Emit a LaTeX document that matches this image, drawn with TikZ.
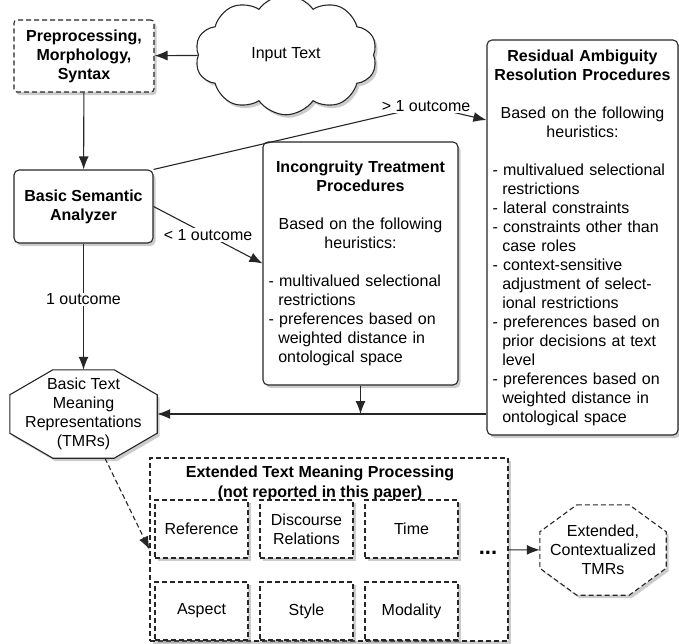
\documentclass[tikz,border=0pt]{standalone}
\usepackage{fontspec}
\setmainfont{Liberation Sans}
\usetikzlibrary{positioning}
\usetikzlibrary{calc}
\usetikzlibrary{arrows.meta,shapes.symbols,shadows,backgrounds}
\setlength{\parindent}{0pt}
\newcommand{\heur}{\par - }
\newcommand{\hcont}{\newline\hspace*{0.61em}}

\tikzset{
base/.style={draw=black!85, line width=1.1pt, fill=white, font=\fontsize{16}{19}\selectfont,
  drop shadow={shadow xshift=2.5pt, shadow yshift=-3pt, opacity=0.4}},
procbox/.style={base, rounded corners=5pt},
dashbox/.style={base, rounded corners=3pt, dash pattern=on 5pt off 3pt},
subbox/.style={dashbox, rounded corners=0pt, align=center, minimum width=93pt, minimum height=58pt},
octo/.style={align=center, font=\fontsize{16}{19}\selectfont},
octline/.style={base},
lbl/.style={fill=white, inner sep=1pt, font=\fontsize{16}{19}\selectfont},
arr/.style={-{Latex[length=13pt,width=10pt]}, line width=1.1pt, draw=black!85},
}

\begin{document}
\begin{tikzpicture}[x=1pt,y=-1pt]
\useasboundingbox (0,0) rectangle (679,643);

\node[dashbox, align=center, font=\fontsize{16}{19}\selectfont\bfseries, minimum width=140pt, minimum height=72pt](prep) at (84,56){Preprocessing,\\Morphology,\\Syntax};
\node[base, cloud, cloud puffs=10, cloud puff arc=110, minimum width=182pt, minimum height=90pt](intext) at (286,55){Input Text};
\node[procbox, align=center, font=\fontsize{16}{19}\selectfont\bfseries, minimum width=139pt, minimum height=73pt](bsa) at (83.5,206.5){Basic Semantic\\Analyzer};

\node[procbox, text width=184pt, inner xsep=5.5pt, minimum height=243pt](incong) at (360.5,263.5){%
{\centering\bfseries Incongruity Treatment\\Procedures\par}
\vskip19pt
{\centering Based on the following\\heuristics:\par}
\vskip19pt
\raggedright
\heur multivalued selectional\hcont restrictions
\heur preferences based on\hcont weighted distance in\hcont ontological space\par};

\node[procbox, text width=180pt, inner xsep=5.5pt, minimum height=395pt](resid) at (582.5,237.5){%
{\centering\bfseries Residual Ambiguity\\Resolution Procedures\par}
\vskip19pt
{\centering Based on the following\\heuristics:\par}
\vskip19pt
\raggedright
\heur multivalued selectional\hcont restrictions
\heur lateral constraints
\heur constraints other than\hcont case roles
\heur context-sensitive\hcont adjustment of select-\hcont ional restrictions
\heur preferences based on\hcont prior decisions at text\hcont level
\heur preferences based on\hcont weighted distance in\hcont ontological space\par};

% octagons: text node first, outline behind it
\node[octo, minimum width=147pt, minimum height=88pt](btmr) at (83.5,414){Basic Text\\Meaning\\Representations\\(TMRs)};
\node[octo, minimum width=126pt, minimum height=90pt](exttmr) at (603,550){Extended,\\Contextualized\\TMRs};
\begin{scope}[on background layer]
\draw[octline] ($(btmr.north west)+(43,0)$) -- ($(btmr.north east)+(-43,0)$) -- ($(btmr.north east)+(0,25)$)
  -- ($(btmr.south east)+(0,-25)$) -- ($(btmr.south east)+(-43,0)$) -- ($(btmr.south west)+(43,0)$)
  -- ($(btmr.south west)+(0,-25)$) -- ($(btmr.north west)+(0,25)$) -- cycle;
\draw[octline, dash pattern=on 5pt off 3pt] ($(exttmr.north west)+(37,0)$) -- ($(exttmr.north east)+(-37,0)$) -- ($(exttmr.north east)+(0,27)$)
  -- ($(exttmr.south east)+(0,-27)$) -- ($(exttmr.south east)+(-37,0)$) -- ($(exttmr.south west)+(37,0)$)
  -- ($(exttmr.south west)+(0,-27)$) -- ($(exttmr.north west)+(0,27)$) -- cycle;
\end{scope}

\node[dashbox, rounded corners=0pt, minimum width=358pt, minimum height=183pt](ext) at (329,549.5){};
\node[font=\fontsize{16}{20}\selectfont\bfseries, align=center](exttitle) at (320,483){Extended Text Meaning Processing\\(not reported in this paper)};
\foreach \nm/\x/\y/\txt in {refer/201.5/529/Reference, disc/306.5/529/{Discourse\\Relations}, time/411.5/529/Time,
  aspect/201.5/611/Aspect, style/306.5/611/Style, modal/411.5/611/Modality}
  \node[subbox](\nm) at (\x,\y){\txt};
\node[font=\fontsize{22}{22}\selectfont\bfseries](dots) at (488,553){...};

\coordinate (gtk) at (426,106);
\draw[arr] (bsa.north east) -- (gtk) -- ([yshift=117.5pt]resid.west);
\node[lbl](gtlbl) at (gtk){> 1 outcome};

\path
(intext) edge[arr] node{} (prep)
(prep) edge[arr] node{} (bsa)
(bsa.east) edge[arr] node[lbl]{< 1 outcome} (incong.west)
(bsa) edge[arr] node[lbl, pos=0.44]{1 outcome} (btmr)
(incong) edge[arr] node{} (incong |- btmr.east)
(resid.west |- btmr.east) edge[arr] node{} (btmr)
(btmr) edge[arr, dash pattern=on 5pt off 3pt] node{} (ext.west)
(ext) edge[arr] node{} (exttmr);
\end{tikzpicture}
\end{document}
